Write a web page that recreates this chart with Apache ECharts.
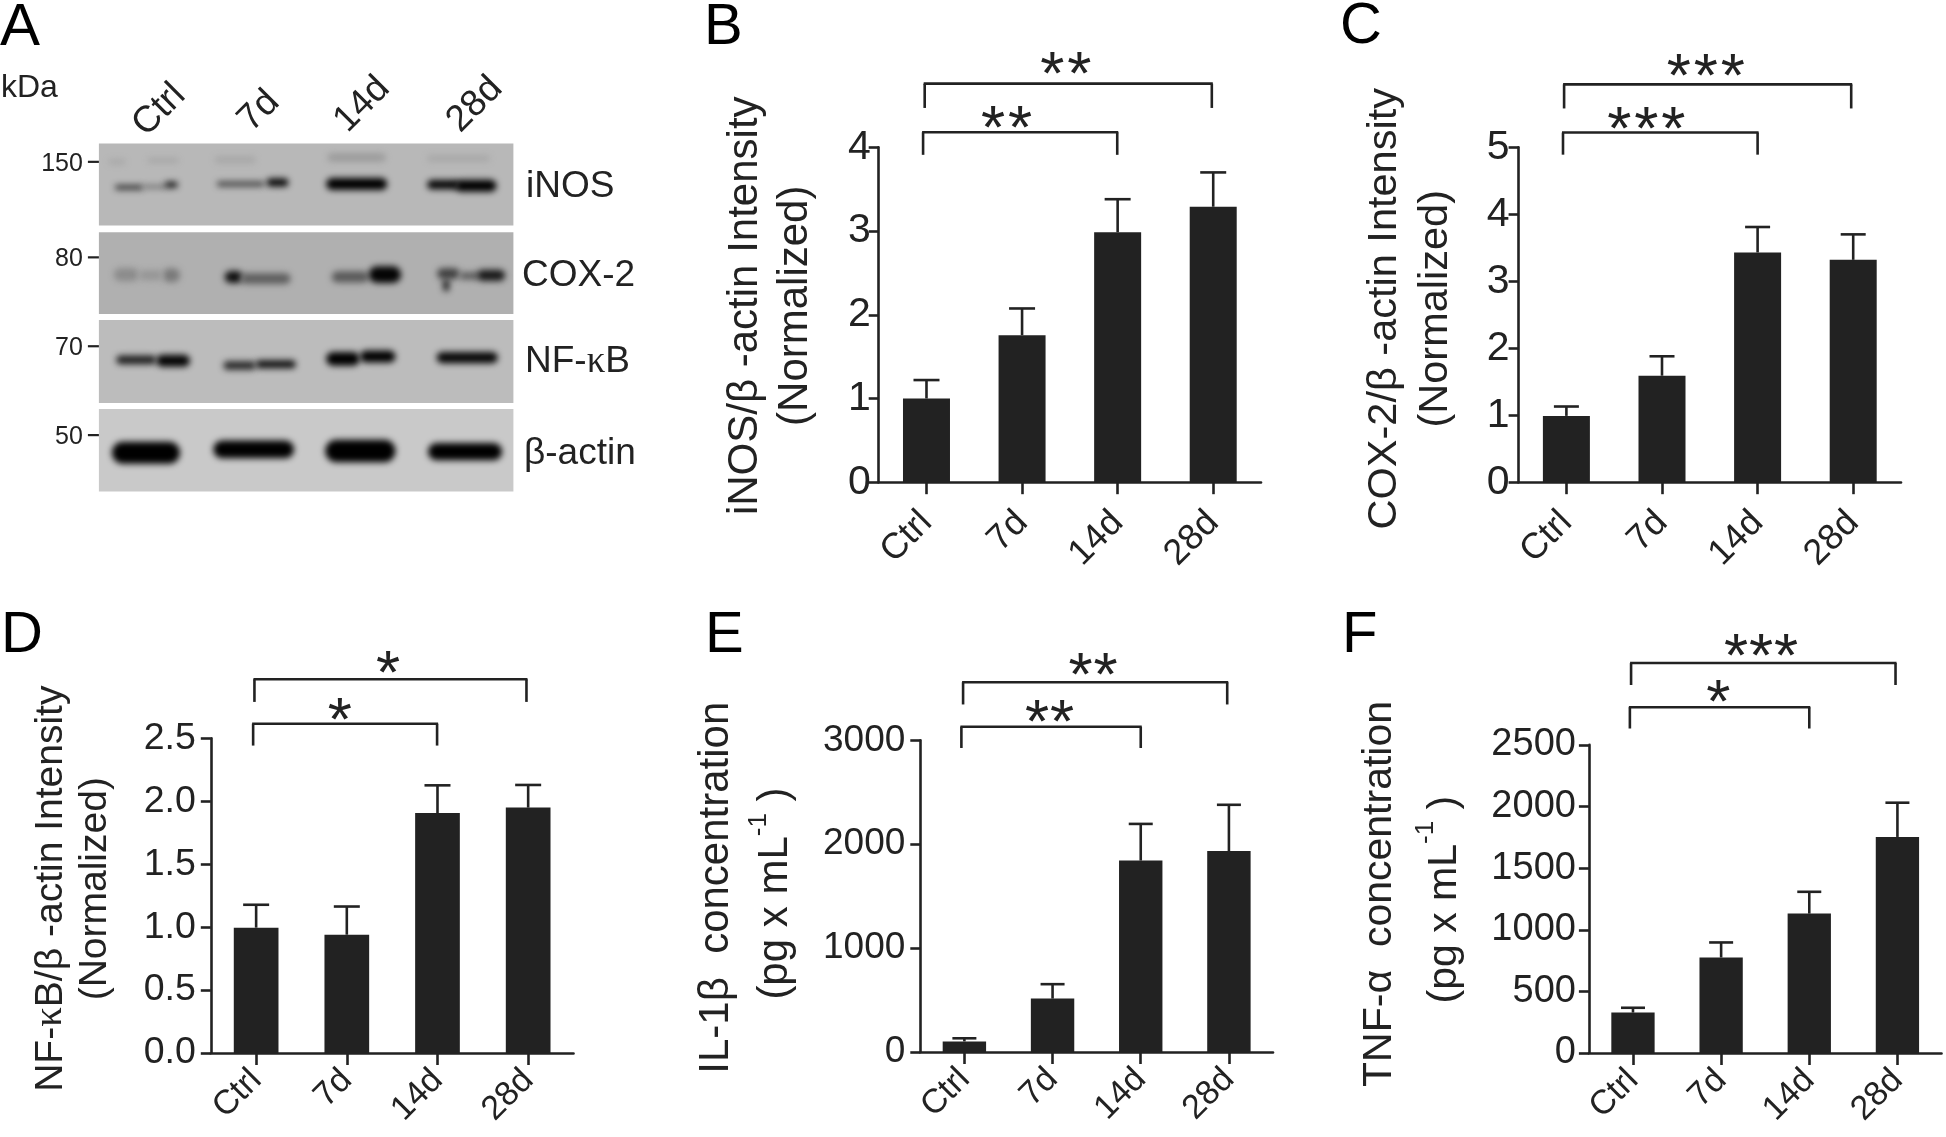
<!DOCTYPE html>
<html><head><meta charset="utf-8">
<style>html,body{margin:0;padding:0;background:#fff}#c{width:1946px;height:1137px}</style>
<script src="https://cdn.jsdelivr.net/npm/echarts@6/dist/echarts.min.js"></script>
</head><body><div id="c"></div>
<script>
const FONT = '"Liberation Sans", Arial, sans-serif';
const SERIF = '"Liberation Serif", serif';
const INK = '#222';
const days = ['Ctrl','7d','14d','28d'];

// Panel B
const bValues = [1.0,1.755,2.985,3.29];
const bErrors = [1.22,2.075,3.38,3.70];
// Panel C
const cValues = [0.99,1.59,3.43,3.32];
const cErrors = [1.13,1.88,3.81,3.70];
// Panel D
const dValues = [0.996,0.94,1.907,1.95];
const dErrors = [1.178,1.164,2.127,2.13];
// Panel E
const eValues = [102,514,1843,1935];
const eErrors = [132,653,2196,2380];
// Panel F
const fValues = [328,775,1131,1753];
const fErrors = [367,897,1308,2031];

// significance brackets: from, to, line level, leg end level, stars
const bBrackets = [[0,3,4.76,4.47,'**'],[0,2,4.18,3.91,'**']];
const cBrackets = [[0,3,5.94,5.58,'***'],[0,2,5.22,4.89,'***']];
const dBrackets = [[0,3,2.97,2.79,'*'],[0,2,2.617,2.443,'*']];
const eBrackets = [[0,3,3560,3346,'**'],[0,2,3132,2927,'**']];
const fBrackets = [[0,3,3164,2986,'***'],[0,2,2806,2633,'*']];

// Western blot panel, in gel units
const blotNames = ['iNOS','COX-2','NF-{k|κ}B','β-actin'];
const blotBoxes = [[433,680,184],[700,947,176],[965,1215,188],[1233,1482,201]];
const kdaLabels = ['150','80','70','50'];
const kdaMarks = [488,776,1044,1312];
// x0,x1,y,thickness,grey
const inosBands = [
 [250,290,488,14,166],[340,412,484,12,162],[495,590,482,22,168],[755,890,475,26,156],[985,1130,478,20,168],
 [265,330,565,14,50],[330,385,563,9,95],[380,410,557,18,25],
 [500,610,555,15,65],[615,665,550,24,5],
 [752,893,555,36,0],
 [985,1060,557,28,5],[1050,1145,560,36,0]];
const coxBands = [
 [262,320,828,40,140],[375,415,830,42,122],[320,375,830,30,150],
 [518,560,835,36,15],[555,670,840,32,95],
 [765,850,835,34,90],[850,925,828,50,5],
 [1008,1060,825,32,65],[1022,1036,860,36,30],[1060,1105,832,22,90],[1100,1165,830,34,25]];
const nfBands = [
 [268,360,1085,26,30],[360,438,1088,36,5],
 [515,590,1102,26,40],[590,682,1098,24,15],
 [752,830,1082,42,0],[830,912,1075,36,2],
 [1007,1148,1078,34,8]];
const actinBands = [
 [258,415,1365,66,0],[492,678,1355,54,0],[750,912,1360,68,0],[987,1158,1362,52,0]];
const laneLabels = ['Ctrl','7d','14d','28d'];
const laneCenters = [367,597,835,1095];

const panelLetters = ['A','B','C','D','E','F'];

const panels = [
 {letter:'B',letterX:704,letterY:28,left:878.7,right:1261,top:147.3,bottom:482.2,max:4,interval:1,values:bValues,errors:bErrors,brackets:bBrackets,
  name:'iNOS/β -actin Intensity\n(Normalized)',fs:41,xfs:36,tfs:42,lh:50,margin:8,lp:8,gap:58,shift:18,barW:47,capW:26,starGap:27,xm:35,xp:17,
  bDx:[[-1.8,-1.4],[-3.4,-0.4]],sDx:[-2.5,-13.6],sDy:[20.4,15.7]},
 {letter:'C',letterX:1340,letterY:27,left:1518.6,right:1901,top:147.3,bottom:482.2,max:5,interval:1,values:cValues,errors:cErrors,brackets:cBrackets,
  name:'COX-2/β -actin Intensity\n(Normalized)',fs:41,xfs:36,tfs:41.5,lh:51,margin:9,lp:8,gap:58,shift:12,barW:47,capW:25,starGap:27,xm:35,xp:17,
  bDx:[[-2.3,-2],[-3.4,0]],sDx:[-1.8,-14],sDy:[19.9,15]},
 {letter:'D',letterX:1,letterY:636,left:210.8,right:573.5,top:738.4,bottom:1053,max:2.5,interval:0.5,values:dValues,errors:dErrors,brackets:dBrackets,fixed:1,
  name:'{a|NF-}{k|κ}{a|B/β -actin Intensity}\n{a|(Normalized)}',fs:37.5,xfs:34,tfs:39,lh:44,margin:15,lp:4,gap:94,shift:14,barW:44.7,capW:26,starGap:25,xm:22,xp:4,
  bDx:[[-1.7,-1.7],[-3,-0.4]],sDx:[-2.4,-5.3],sDy:[17.5,14.7]},
 {letter:'E',letterX:705,letterY:636,left:920.3,right:1273,top:740.4,bottom:1052,max:3000,interval:1000,values:eValues,errors:eErrors,brackets:eBrackets,
  name:'{a|IL-1β  concentration}\n{a|(pg x mL}{s|-1}{a| )\u00a0}',fs:37,xfs:34,tfs:42,lh:59,margin:15,lp:4,gap:115,shift:17,barW:43.4,capW:24,starGap:25,xm:22,xp:4,
  bDx:[[-1.3,-1.7],[-3,0]],sDx:[-2.2,-1.6],sDy:[18.8,15.4]},
 {letter:'F',letterX:1342,letterY:636,left:1588.9,right:1941.5,top:744.9,bottom:1053,max:2500,interval:500,values:fValues,errors:fErrors,brackets:fBrackets,
  name:'{a|TNF-α  concentration}\n{a|(pg x mL}{s|-1}{a| )\u00a0}',fs:38,xfs:34,tfs:41,lh:64.5,margin:13,lp:4,gap:112,shift:10,barW:43.3,capW:24,starGap:25,xm:22,xp:4,
  bDx:[[-1.9,-1.9],[-3.1,0]],sDx:[-2.3,-1.2],sDy:[18.5,16.4]}
];

const grids=[],xAxes=[],yAxes=[],series=[];
panels.forEach(function(p,n){
  grids.push({left:p.left,top:p.top,width:p.right-p.left,height:p.bottom-p.top,containLabel:false});
  xAxes.push({type:'category',gridIndex:n,data:days,boundaryGap:true,
    axisLine:{show:true,onZero:false,lineStyle:{color:INK,width:2.6}},
    axisTick:{show:true,alignWithLabel:true,length:12,lineStyle:{color:INK,width:2.6}},
    axisLabel:{show:true,interval:0,rotate:45,margin:p.xm,padding:[p.xp,0,0,0],fontFamily:FONT,fontSize:p.xfs,color:INK,hideOverlap:false}});
  yAxes.push({type:'value',gridIndex:n,min:0,max:p.max,interval:p.interval,splitLine:{show:false},
    axisLine:{show:true,lineStyle:{color:INK,width:2.6}},
    axisTick:{show:true,length:10,lineStyle:{color:INK,width:2.6}},
    axisLabel:{show:true,margin:p.margin,padding:[p.lp,0,0,0],fontFamily:FONT,fontSize:p.fs,color:INK,showMinLabel:true,showMaxLabel:true,
      formatter:p.fixed?function(v){return v.toFixed(p.fixed)}:function(v){return String(v)}},
    name:p.name,nameLocation:'middle',nameGap:p.gap,nameRotate:90,
    nameTextStyle:{fontFamily:FONT,fontSize:p.tfs,color:INK,lineHeight:p.lh,align:'center',padding:[0,0,0,p.shift],
      rich:{a:{fontFamily:FONT,fontSize:p.tfs,color:INK,lineHeight:p.lh},
            k:{fontFamily:SERIF,fontSize:p.tfs,color:INK,lineHeight:p.lh},
            s:{fontFamily:FONT,fontSize:26,color:INK,lineHeight:p.lh,verticalAlign:'top'}}}});
  series.push({type:'bar',xAxisIndex:n,yAxisIndex:n,data:p.values,barWidth:p.barW,itemStyle:{color:INK},silent:true,animation:false,z:3});
  series.push({type:'custom',xAxisIndex:n,yAxisIndex:n,silent:true,animation:false,z:2,clip:false,
    encode:{x:0,y:2},
    data:p.errors.map(function(e,i){return [i,p.values[i],e]}),
    renderItem:function(params,api){
      const a=api.coord([api.value(0),api.value(1)]),b=api.coord([api.value(0),api.value(2)]);
      const st={stroke:INK,lineWidth:2.6,fill:null};
      return {type:'group',children:[
        {type:'line',shape:{x1:a[0],y1:a[1],x2:b[0],y2:b[1]},style:st},
        {type:'line',shape:{x1:b[0]-p.capW/2,y1:b[1],x2:b[0]+p.capW/2,y2:b[1]},style:st}]};
    }});
  series.push({type:'custom',xAxisIndex:n,yAxisIndex:n,silent:true,animation:false,z:4,clip:false,
    encode:{x:0,y:2},
    data:p.brackets.map(function(b){return [b[0],b[1],b[2],b[3]]}),
    renderItem:function(params,api){
      const k=params.dataIndex,br=p.brackets[k],dx=p.bDx[k];
      const l=api.coord([br[0],br[2]]),r=api.coord([br[1],br[2]]);
      const le=api.coord([br[0],br[3]]),re=api.coord([br[1],br[3]]);
      const x0=l[0]+dx[0],x1=r[0]+dx[1];
      const st={stroke:INK,lineWidth:2.6,fill:null};
      const kids=[
        {type:'line',shape:{x1:x0-1,y1:l[1],x2:x1+1,y2:r[1]},style:st},
        {type:'line',shape:{x1:x0,y1:l[1],x2:x0,y2:le[1]},style:st},
        {type:'line',shape:{x1:x1,y1:r[1],x2:x1,y2:re[1]},style:st}];
      const cnt=br[4].length,mid=(x0+x1)/2+p.sDx[k],sy=l[1]-p.sDy[k]+14;
      for(let i=0;i<cnt;i++){
        kids.push({type:'text',x:mid+(i-(cnt-1)/2)*p.starGap,y:sy,
          style:{text:'*',fontFamily:FONT,fontSize:62,fill:INK,align:'center',verticalAlign:'middle'}});
      }
      return {type:'group',children:kids};
    }});
});

// Panel A grid in gel units
const aIdx=panels.length;
grids.push({left:98.9,top:143.6,width:414.5,height:347.9,containLabel:false});
xAxes.push({type:'value',gridIndex:aIdx,min:228,max:1184,show:false,splitLine:{show:false}});
yAxes.push({type:'value',gridIndex:aIdx,min:433,max:1482,inverse:true,show:false,splitLine:{show:false}});
const g=function(v){return 'rgb('+v+','+v+','+v+')'};
const aBase={type:'custom',xAxisIndex:aIdx,yAxisIndex:aIdx,silent:true,animation:false,clip:false};
series.push(Object.assign({},aBase,{z:1,encode:{x:0,y:1},
  data:blotBoxes.map(function(b){return [228,b[0],1184,b[1],b[2]]}),
  renderItem:function(params,api){
    const a=api.coord([api.value(0),api.value(1)]),b=api.coord([api.value(2),api.value(3)]);
    return {type:'rect',shape:{x:a[0],y:a[1],width:b[0]-a[0],height:b[1]-a[1]},style:{fill:g(api.value(4))}};
  }}));
const allBands=[].concat(inosBands,coxBands,nfBands,actinBands);
const OFF=3000;
series.push(Object.assign({},aBase,{z:2,encode:{x:0,y:2},
  data:allBands,
  renderItem:function(params,api){
    const x0=api.value(0),x1=api.value(1),y=api.value(2),t=api.value(3),v=api.value(4);
    const a=api.coord([x0,y-t/2]),b=api.coord([x1,y+t/2]);
    const h=b[1]-a[1];
    // only the blurred shadow of an off-canvas shape is visible, which gives soft band edges
    return {type:'rect',shape:{x:a[0]-OFF,y:a[1],width:b[0]-a[0],height:h,r:h/2},
      style:{fill:'#000',shadowBlur:6,shadowColor:g(v),shadowOffsetX:OFF}};
  }}));
series.push(Object.assign({},aBase,{z:3,encode:{x:0,y:1},
  data:kdaMarks.map(function(m){return [228,m]}),
  renderItem:function(params,api){
    const p=api.coord([api.value(0),api.value(1)]);
    return {type:'group',children:[
      {type:'line',shape:{x1:p[0]-11,y1:p[1],x2:p[0],y2:p[1]},style:{stroke:INK,lineWidth:2.2}},
      {type:'text',x:p[0]-16,y:p[1]+2,style:{text:kdaLabels[params.dataIndex],fontFamily:FONT,fontSize:25,fill:INK,align:'right',verticalAlign:'middle'}}]};
  }}));

const aTexts=[
 {t:blotNames[0],x:526,y:187},{t:blotNames[1],x:522,y:276},{t:blotNames[2],x:525,y:362},{t:blotNames[3],x:524,y:454}];
const graphic=[];
aTexts.forEach(function(o){graphic.push({type:'text',x:o.x,y:o.y,style:{text:o.t,fontFamily:FONT,fontSize:37,fill:INK,align:'left',verticalAlign:'middle',
  rich:{k:{fontFamily:SERIF,fontSize:37,fill:INK}}}})});
graphic.push({type:'text',x:1,y:88,style:{text:'kDa',fontFamily:FONT,fontSize:32,fill:INK,align:'left',verticalAlign:'middle'}});
const laneY=[110,111,104.5,104.5];
laneLabels.forEach(function(t,i){
  const x=98.9+(laneCenters[i]-228)/2.306;
  graphic.push({type:'text',x:x,y:laneY[i],rotation:Math.PI/4,
    style:{text:t,fontFamily:FONT,fontSize:37,fill:INK,align:'center',verticalAlign:'middle'}});
});
graphic.push({type:'text',x:0,y:28,style:{text:panelLetters[0],fontFamily:FONT,fontSize:60,fill:'#000',align:'left',verticalAlign:'middle'}});
panels.forEach(function(p){
  graphic.push({type:'text',x:p.letterX,y:p.letterY,style:{text:p.letter,fontFamily:FONT,fontSize:58,fill:'#000',align:'left',verticalAlign:'middle'}});
});

const chart=echarts.init(document.getElementById('c'),null,{renderer:'canvas'});
chart.setOption({animation:false,backgroundColor:'#fff',grid:grids,xAxis:xAxes,yAxis:yAxes,series:series,graphic:graphic});
</script></body></html>
